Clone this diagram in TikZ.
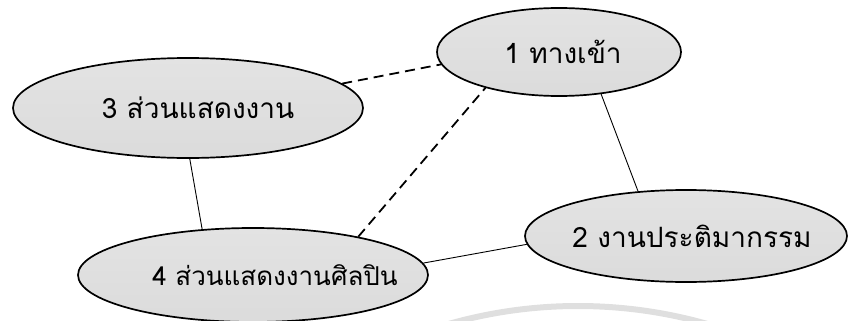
\documentclass[tikz,border=0pt]{standalone}
\usepackage{fontspec}
\newfontfamily\thaifont[Script=Thai]{Loma}
\usetikzlibrary{shapes.geometric}
\tikzset{
  vong/.style={ellipse,draw,line width=1.7pt,inner sep=0pt,top color=gray!22,middle color=gray!3,
               bottom color=gray!28,font=\thaifont\fontsize{28}{32}\selectfont},
  sen/.style={line width=0.9pt},
  senpra/.style={line width=1.8pt,dash pattern=on 10pt off 6pt},
}
\newcommand{\chue}[2]{\makebox[0pt]{\hspace{#1}#2}}
\begin{document}
\begin{tikzpicture}[x=1pt,y=-1pt]
  \useasboundingbox (0,0) rectangle (848,321);
  \begin{scope}
    \clip (0,0) rectangle (848,321);
    \draw[gray!25,line width=6pt] (578,777) circle (471pt);
  \end{scope}
  \node[vong,minimum width=244pt,minimum height=88pt] (thang) at (559,52) {\chue{8pt}{1 ทางเข้า}};
  \node[vong,minimum width=350pt,minimum height=100pt] (suan) at (188,108) {\chue{20pt}{3 ส่วนแสดงงาน}};
  \node[vong,minimum width=322pt,minimum height=92pt] (ngan) at (686,236) {\chue{12pt}{2 งานประติมากรรม}};
  \node[vong,minimum width=350pt,minimum height=94pt,font=\thaifont\fontsize{26}{30}\selectfont]
    (silpin) at (253,275) {\raisebox{-8pt}{\chue{44pt}{4 ส่วนแสดงงานศิลปิน}}};
  \draw[senpra] (suan.9) -- (thang.186);
  \draw[senpra] (silpin.20) -- (thang.206);
  \draw[sen] (thang.315) -- (ngan.137);
  \draw[sen] (suan.272) -- (silpin.138);
  \draw[sen] (silpin.4) -- (ngan.183);
\end{tikzpicture}
\end{document}
